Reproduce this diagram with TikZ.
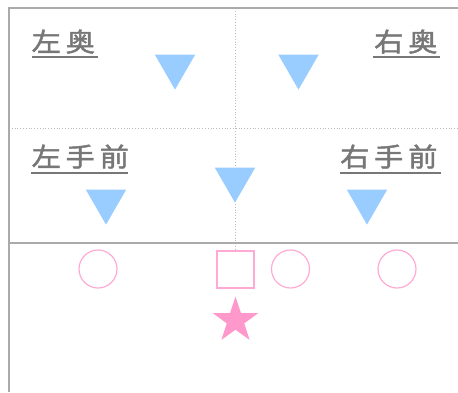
\documentclass[tikz,border=0pt]{standalone}
\usepackage{fontspec}
\newfontfamily\jpfont{Noto Sans CJK JP}[LetterSpace=19, FakeBold=1.8, FakeStretch=1.12]
\usetikzlibrary{shapes.geometric}
\definecolor{frame}{HTML}{AAAAAA}
\definecolor{dotc}{HTML}{BBBBBB}
\definecolor{txt}{HTML}{777777}
\definecolor{tri}{HTML}{99CCFF}
\definecolor{pinkline}{HTML}{FFAAD4}
\definecolor{pinkfill}{HTML}{FF99CC}
\tikzset{
  lab/.style={text=txt, font=\jpfont\fontsize{26}{26}\selectfont, inner sep=0pt},
  uline/.style={draw=txt, line width=1.6pt},
  seat/.style={isosceles triangle, isosceles triangle apex angle=60, shape border rotate=-90, fill=tri, draw=none, minimum height=35pt, inner sep=0pt, anchor=apex},
  ring/.style={circle, draw=pinkline, line width=1.2pt, minimum size=38pt, inner sep=0pt},
  sq/.style={rectangle, draw=pinkline, line width=1.2pt, minimum size=37pt, inner sep=0pt},
  starshape/.style={star, star points=5, star point ratio=2.6, fill=pinkfill, draw=none, minimum size=48pt, inner sep=0pt},
  framel/.style={draw=frame, line width=2pt},
  dotl/.style={draw=dotc, line width=0.8pt, dotted}
}
\begin{document}
\begin{tikzpicture}[x=1pt,y=-1pt]
\useasboundingbox (0,0) rectangle (458,392);
% frame
\coordinate (tl) at (9,8);
\coordinate (tr) at (458,8);
\coordinate (bl) at (9,392);
\coordinate (ml) at (9,243);
\coordinate (mr) at (458,243);
\coordinate (dl) at (9,128);
\coordinate (dr) at (458,128);
\coordinate (vt) at (235,8);
\coordinate (vb) at (235,250);
\draw[dotl] (dl) -- (dr);
\draw[dotl] (vt) -- (vb);
\draw[framel] (bl) -- (tl) -- (tr);
\draw[framel] (ml) -- (mr);
% labels
\node[lab, anchor=base west] (l1) at (31.5,51.5) {左奥};
\node[lab, anchor=base west] (l2) at (374,51.5) {右奥};
\node[lab, anchor=base west] (l3) at (31.5,166.5) {左手前};
\node[lab, anchor=base west] (l4) at (340,166.5) {右手前};
\coordinate (u1a) at (32,57); \coordinate (u1b) at (98,57);
\coordinate (u2a) at (373,57); \coordinate (u2b) at (440,57);
\coordinate (u3a) at (31,173); \coordinate (u3b) at (128,173);
\coordinate (u4a) at (340,173); \coordinate (u4b) at (441,173);
\draw[uline] (u1a) -- (u1b);
\draw[uline] (u2a) -- (u2b);
\draw[uline] (u3a) -- (u3b);
\draw[uline] (u4a) -- (u4b);
% seats
\node[seat] (t1) at (175,90) {};
\node[seat] (t2) at (298.5,90) {};
\node[seat] (t3) at (235,203) {};
\node[seat] (t4) at (106,225) {};
\node[seat] (t5) at (367,225) {};
% bottom
\node[ring] (c1) at (98,269) {};
\node[sq] (s1) at (235.5,269.5) {};
\node[ring] (c2) at (290.5,269) {};
\node[ring] (c3) at (397,269) {};
\node[starshape] (st) at (235.5,320.5) {};
\end{tikzpicture}
\end{document}
